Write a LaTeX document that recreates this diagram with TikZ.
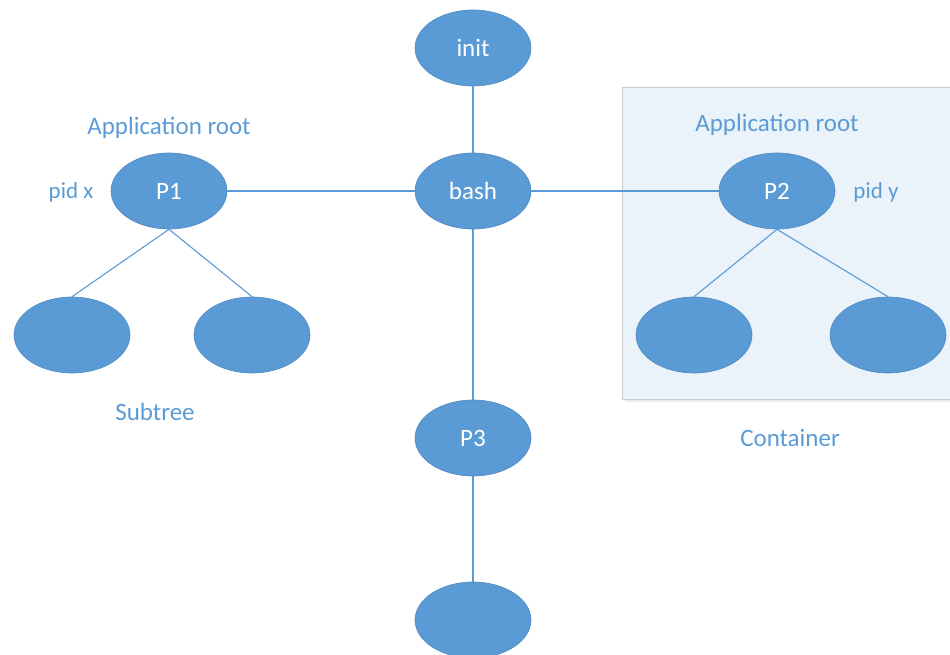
\documentclass[tikz,border=0pt]{standalone}
\usepackage{fontspec}
\setmainfont{Carlito}
\usetikzlibrary{shapes.geometric}
\definecolor{procblue}{HTML}{5B9BD5}
\definecolor{procedge}{HTML}{5088C0}
\definecolor{boxfill}{HTML}{EBF3FA}
\definecolor{boxedge}{HTML}{C9CCD0}
\tikzset{
  proc/.style={ellipse, fill=procblue, draw=procedge, line width=0.6pt,
    minimum width=116pt, minimum height=76pt, inner sep=0pt,
    text=white, font=\fontsize{25}{30}\selectfont},
  link/.style={draw=procblue, line width=1.1pt},
  tag/.style={text=procblue, inner sep=0pt, anchor=base, font=\fontsize{25}{30}\selectfont},
  pidtag/.style={tag, font=\fontsize{23}{28}\selectfont}
}
\begin{document}
\begin{tikzpicture}[x=1pt, y=-1pt]
\useasboundingbox (0,0) rectangle (950,655);
% container frame
\fill[black!8] (625,91) rectangle (953,402);
\draw[boxedge, fill=boxfill, line width=1pt] (622,88) rectangle (953,399);

% processes
\node[proc] (init) at (473,48) {init};
\node[proc] (bash) at (473,191) {bash};
\node[proc] (p1) at (169,191) {P1};
\node[proc] (p2) at (777,191) {P2};
\node[proc] (p3) at (473,438) {P3};
\node[proc] (p4) at (473,620) {};
\node[proc] (c1) at (72,335) {};
\node[proc] (c2) at (252,335) {};
\node[proc] (c3) at (694,335) {};
\node[proc] (c4) at (888,335) {};

% connectors
\draw[link] (init) -- (bash);
\draw[link] (bash) -- (p1);
\draw[link] (bash) -- (p2);
\draw[link] (bash) -- (p3);
\draw[link] (p3) -- (p4);
\draw[link] (p1.south) -- (c1.north);
\draw[link] (p1.south) -- (c2.north);
\draw[link] (p2.south) -- (c3.north);
\draw[link] (p2.south) -- (c4.north);

% labels
\node[tag] (app1) at (169,135) {Application root};
\node[tag] (app2) at (777,132) {Application root};
\node[pidtag] (pidx) at (71,199) {pid x};
\node[pidtag] (pidy) at (876,199) {pid y};
\node[tag] (sub) at (155,420) {Subtree};
\node[tag] (cont) at (790,446) {Container};
\end{tikzpicture}
\end{document}
